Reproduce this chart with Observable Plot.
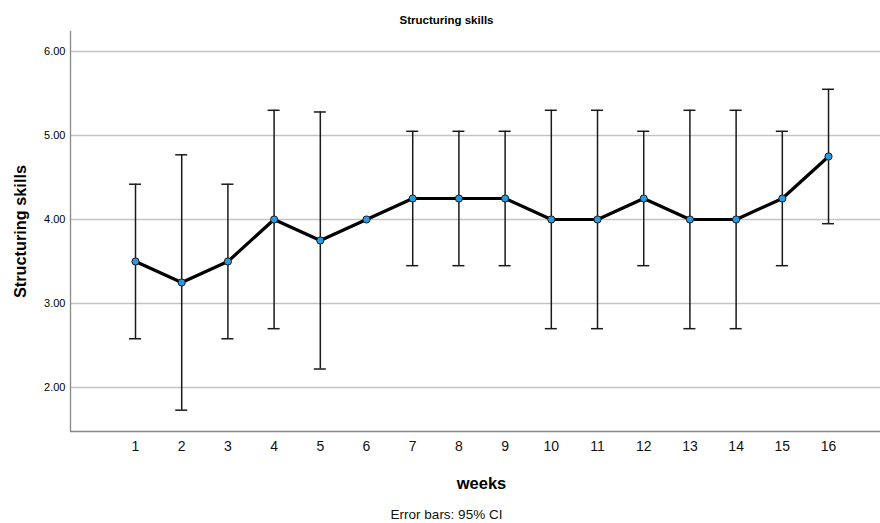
<!DOCTYPE html>
<html>
<head>
<meta charset="utf-8">
<script src="https://cdn.jsdelivr.net/npm/d3@7"></script>
<script src="https://cdn.jsdelivr.net/npm/@observablehq/plot@0.6"></script>
<style>
  html, body { margin: 0; padding: 0; background: #fff; }
  svg { display: block; }
</style>
</head>
<body>
<div id="chart"></div>
<script>
const weeks = [1,2,3,4,5,6,7,8,9,10,11,12,13,14,15,16];
const means = [3.5,3.25,3.5,4.0,3.75,4.0,4.25,4.25,4.25,4.0,4.0,4.25,4.0,4.0,4.25,4.75];
const lower = [2.58,1.73,2.58,2.70,2.22,4.0,3.45,3.45,3.45,2.70,2.70,3.45,2.70,2.70,3.45,3.95];
const upper = [4.42,4.77,4.42,5.30,5.28,4.0,5.05,5.05,5.05,5.30,5.30,5.05,5.30,5.30,5.05,5.55];
const yTicks = [2,3,4,5,6];

const data = weeks.map((w, i) => ({week: w, mean: means[i], lo: lower[i], hi: upper[i]}));
const bars = data.filter(d => d.hi > d.lo);

const xDomain = [-0.407, 17.125];
const yDomain = [1.476, 6.238];
const capHalf = 0.13;
const font = "'Liberation Sans', Arial, sans-serif";

const chart = Plot.plot({
  width: 880,
  height: 523,
  marginLeft: 70,
  marginRight: 0,
  marginTop: 31,
  marginBottom: 92,
  style: {fontFamily: font, background: "#fff", color: "#000"},
  x: {domain: xDomain, axis: null},
  y: {domain: yDomain, axis: null},
  marks: [
    Plot.gridY(yTicks, {stroke: "#c4c4c4", strokeOpacity: 1, strokeWidth: 1.3}),
    Plot.ruleX([xDomain[0]], {stroke: "#888", strokeWidth: 1.3}),
    Plot.ruleY([yDomain[0]], {stroke: "#888", strokeWidth: 1.3}),
    Plot.axisY(yTicks, {tickSize: 0, tickPadding: 5, tickFormat: d => d.toFixed(2), fontSize: 11, label: null, fill: "#000", stroke: "#000", strokeWidth: 0.25}),
    Plot.axisX(weeks, {tickSize: 0, tickPadding: 10, fontSize: 14, label: null, fill: "#111"}),
    Plot.ruleX(bars, {x: "week", y1: "lo", y2: "hi", stroke: "#1a1a1a", strokeWidth: 1.5}),
    Plot.ruleY(bars, {y: "hi", x1: d => d.week - capHalf, x2: d => d.week + capHalf, stroke: "#1a1a1a", strokeWidth: 1.5}),
    Plot.ruleY(bars, {y: "lo", x1: d => d.week - capHalf, x2: d => d.week + capHalf, stroke: "#1a1a1a", strokeWidth: 1.5}),
    Plot.line(data, {x: "week", y: "mean", stroke: "#000", strokeWidth: 3.2}),
    Plot.dot(data, {x: "week", y: "mean", r: 3.6, fill: "#2a9be0", stroke: "#1a1a1a", strokeWidth: 1}),
    Plot.text(["Structuring skills"], {frameAnchor: "top", dy: -11, dx: -29, fontSize: 11.5, fontWeight: "bold", fill: "#000", textAnchor: "middle", lineAnchor: "middle"}),
    Plot.text(["Structuring skills"], {frameAnchor: "left", dx: -50, dy: 0, rotate: -90, textAnchor: "middle", lineAnchor: "middle", fontSize: 16.3, fontWeight: "bold", fill: "#000"}),
    Plot.text(["weeks"], {frameAnchor: "bottom", dy: 52, dx: 6, fontSize: 16.5, fontWeight: "bold", fill: "#000", textAnchor: "middle", lineAnchor: "middle"}),
    Plot.text(["Error bars: 95% CI"], {frameAnchor: "bottom", dy: 83, dx: -29, fontSize: 13.5, fill: "#111", textAnchor: "middle", lineAnchor: "middle"})
  ]
});
document.getElementById("chart").append(chart);
</script>
</body>
</html>
